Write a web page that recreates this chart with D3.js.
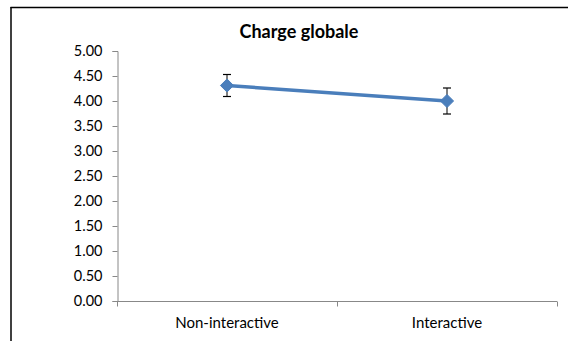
<!DOCTYPE html>
<html><head><meta charset="utf-8">
<script src="https://cdn.jsdelivr.net/npm/d3@7"></script>
<style>html,body{margin:0;padding:0;background:#fff;}svg{display:block;}</style>
</head><body>
<svg id="c" width="568" height="341"></svg>
<script>
const categories = ["Non-interactive", "Interactive"];
const means = [4.31, 4.00];
const errors = [0.22, 0.26];
const yTicks = [0, 0.5, 1, 1.5, 2, 2.5, 3, 3.5, 4, 4.5, 5];
const title = "Charge globale";

const svg = d3.select("#c");
const font = "Lato, 'Open Sans', sans-serif";
// frame
svg.append("line").attr("x1", 10.5).attr("x2", 568).attr("y1", 7.5).attr("y2", 7.5).attr("stroke", "#000").attr("stroke-width", 1.5);
svg.append("line").attr("x1", 11).attr("x2", 11).attr("y1", 7).attr("y2", 341).attr("stroke", "#000").attr("stroke-width", 1.5);

const x0 = 117, x1 = 557, yTop = 51, yBot = 301;
const y = d3.scaleLinear().domain([0, 5]).range([yBot, yTop]);
const x = d3.scaleBand().domain(categories).range([x0, x1]);

svg.append("text").attr("x", 299).attr("y", 38).attr("text-anchor", "middle")
  .attr("font-family", font).attr("font-weight", "bold").attr("font-size", 18).text(title);

const yAxis = svg.append("g").attr("transform", `translate(${x0 + 0.5},0)`)
  .call(d3.axisLeft(y).tickValues(yTicks).tickFormat(d3.format(".2f")).tickSize(5).tickPadding(10));
yAxis.selectAll("path,line").attr("stroke", "#888");
yAxis.selectAll("text").attr("font-family", font).attr("font-size", 14.5).attr("fill", "#000");

const xAxis = svg.append("g").attr("transform", `translate(0,${yBot + 0.5})`);
xAxis.append("line").attr("x1", x0).attr("x2", x1).attr("stroke", "#888");
const bounds = [x0, ...categories.map(c => x(c) + x.bandwidth())];
xAxis.selectAll(".tk").data(bounds).enter().append("line")
  .attr("x1", d => Math.round(d) + 0.5).attr("x2", d => Math.round(d) + 0.5).attr("y1", 0).attr("y2", 5).attr("stroke", "#888");
xAxis.selectAll(".lb").data(categories).enter().append("text")
  .attr("x", d => x(d) + x.bandwidth() / 2).attr("y", 26).attr("text-anchor", "middle")
  .attr("font-family", font).attr("font-size", 15).attr("fill", "#000").text(d => d);

const cx = c => x(c) + x.bandwidth() / 2;
const pts = categories.map((c, i) => ({ c, m: means[i], e: errors[i] }));

svg.append("path").datum(pts)
  .attr("d", d3.line().x(d => cx(d.c)).y(d => y(d.m)))
  .attr("fill", "none").attr("stroke", "#4a7ebb").attr("stroke-width", 3.5);

const eb = svg.selectAll(".eb").data(pts).enter().append("g");
eb.append("line").attr("x1", d => cx(d.c)).attr("x2", d => cx(d.c))
  .attr("y1", d => y(d.m + d.e)).attr("y2", d => y(d.m - d.e)).attr("stroke", "#000").attr("stroke-width", 1);
eb.append("line").attr("x1", d => cx(d.c) - 4).attr("x2", d => cx(d.c) + 4)
  .attr("y1", d => y(d.m + d.e)).attr("y2", d => y(d.m + d.e)).attr("stroke", "#000").attr("stroke-width", 1.2);
eb.append("line").attr("x1", d => cx(d.c) - 4).attr("x2", d => cx(d.c) + 4)
  .attr("y1", d => y(d.m - d.e)).attr("y2", d => y(d.m - d.e)).attr("stroke", "#000").attr("stroke-width", 1.2);

svg.selectAll(".mk").data(pts).enter().append("path")
  .attr("transform", d => `translate(${cx(d.c)},${y(d.m)})`)
  .attr("d", d3.symbol().type(d3.symbolDiamond2).size(110))
  .attr("fill", "#4a7ebb").attr("stroke", "#4a7ebb").attr("stroke-width", 1);
</script>
</body></html>
